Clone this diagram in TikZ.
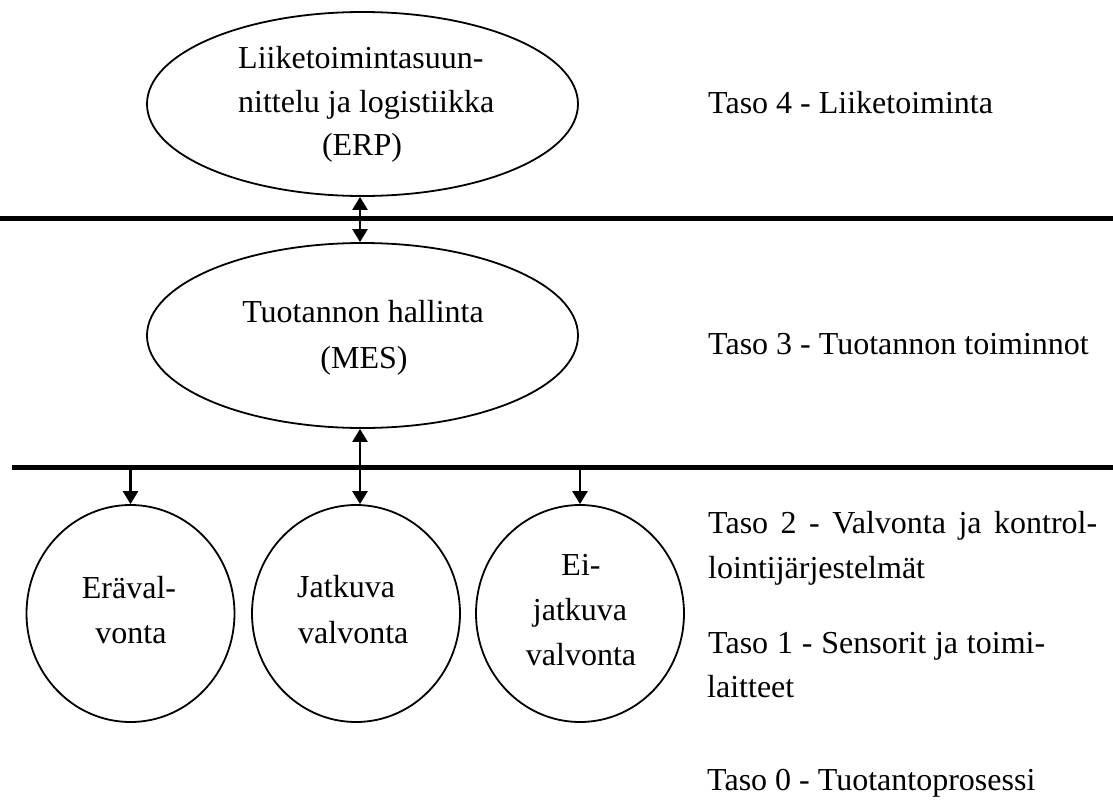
\documentclass[tikz,border=0pt]{standalone}
\usepackage{fontspec}
\setmainfont{Liberation Serif}
\usetikzlibrary{shapes.geometric,arrows.meta}
\begin{document}
\begin{tikzpicture}[x=1pt,y=-1pt,
  layer/.style={ellipse,draw,line width=1.8pt,inner sep=0pt},
  txt/.style={inner sep=0pt,font=\fontsize{32}{44}\selectfont},
  bar/.style={line width=5pt},
  link/.style={line width=2.5pt,arrows={-Triangle[width=15pt,length=13pt]}},
  duplex/.style={line width=2.5pt,arrows={Triangle[width=15pt,length=13pt]-Triangle[width=15pt,length=13pt]}}]
\useasboundingbox (0,0) rectangle (1113,809);

% system levels
\node[layer,minimum width=431pt,minimum height=184pt] (erp) at (362.5,104) {};
\node[layer,minimum width=431pt,minimum height=185pt] (mes) at (362.5,335.5) {};
\node[layer,minimum width=208pt,minimum height=217pt] (c1) at (130.5,613.5) {};
\node[layer,minimum width=208pt,minimum height=217pt] (c2) at (356,613.5) {};
\node[layer,minimum width=208pt,minimum height=217pt] (c3) at (580,613.5) {};

% level separators
\coordinate (bar1w) at (0,218.5);
\coordinate (bar1e) at (1113,218.5);
\coordinate (bar2w) at (12,467.5);
\coordinate (bar2e) at (1113,467.5);
\draw[bar] (bar1w) -- (bar1e);
\draw[bar] (bar2w) -- (bar2e);

% information flow
\coordinate (spine) at (360,0);
\draw[duplex] (erp.south -| spine) -- (mes.north -| spine);
\draw[duplex] (mes.south -| spine) -- (c2.north -| spine);
\draw[link] (c1.north |- bar2w) -- (c1.north);
\draw[link] (c3.north |- bar2w) -- (c3.north);

% labels inside the shapes
\node[txt,anchor=base west] (erp1) at (238,68) {Liiketoimintasuun-};
\node[txt,anchor=base west] (erp2) at (238,112) {nittelu ja logistiikka};
\node[txt,anchor=base] (erp3) at (362,155) {(ERP)};
\node[txt,anchor=base] (mes1) at (363,322) {Tuotannon hallinta};
\node[txt,anchor=base] (mes2) at (364,368) {(MES)};
\node[txt,anchor=base] (c1a) at (129,598) {Eräval-};
\node[txt,anchor=base] (c1b) at (131,643) {vonta};
\node[txt,anchor=base west] (c2a) at (297,597) {Jatkuva};
\node[txt,anchor=base west] (c2b) at (298,643) {valvonta};
\node[txt,anchor=base] (c3a) at (581,575) {Ei-};
\node[txt,anchor=base] (c3b) at (580,620) {jatkuva};
\node[txt,anchor=base] (c3c) at (581,665) {valvonta};

% level names
\node[txt,anchor=base west] (t4) at (708,113) {Taso 4 - Liiketoiminta};
\node[txt,anchor=base west] (t3) at (708,354) {Taso 3 - Tuotannon toiminnot};
\node[txt,anchor=base west] (t2a) at (708,533) {\makebox[389pt][s]{Taso 2 - Valvonta ja kontrol-}};
\node[txt,anchor=base west] (t2b) at (708,578) {lointijärjestelmät};
\node[txt,anchor=base west] (t1a) at (708,653) {\makebox[337pt][s]{Taso 1 - Sensorit ja toimi-}};
\node[txt,anchor=base west] (t1b) at (707,697) {laitteet};
\node[txt,anchor=base west] (t0) at (707,790) {Taso 0 - Tuotantoprosessi};
\end{tikzpicture}
\end{document}
